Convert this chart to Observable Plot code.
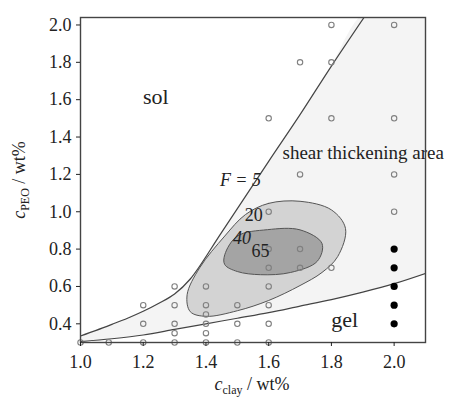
<!DOCTYPE html>
<html><head><meta charset="utf-8">
<script src="https://cdn.jsdelivr.net/npm/d3@7"></script>
<script src="https://cdn.jsdelivr.net/npm/@observablehq/plot@0.6"></script>
<style>body{margin:0;background:#fff} svg{display:block}
svg text{font-family:'Liberation Serif','DejaVu Serif',serif !important}</style>
</head><body><div id="chart"></div>
<script>
// boundary F = 5 (sol / shear thickening)
const upperX = [1.0, 1.05, 1.1, 1.15, 1.2, 1.25, 1.3, 1.35, 1.45, 1.6, 1.7, 1.8, 1.92];
const upperY = [0.335, 0.365, 0.397, 0.43, 0.467, 0.51, 0.56, 0.64, 0.89, 1.27, 1.52, 1.78, 2.08];
// gel boundary
const gelX = [1.0, 1.1, 1.2, 1.3, 1.4, 1.5, 1.6, 1.7, 1.8, 1.9, 2.0, 2.1];
const gelY = [0.305, 0.32, 0.34, 0.37, 0.40, 0.43, 0.46, 0.495, 0.53, 0.57, 0.615, 0.67];
// contour F = 20
const c20X = [1.526, 1.60, 1.70, 1.80, 1.845, 1.82, 1.77, 1.70, 1.60, 1.50, 1.40, 1.35, 1.34, 1.38, 1.46];
const c20Y = [0.985, 1.045, 1.056, 1.01, 0.91, 0.76, 0.675, 0.605, 0.525, 0.47, 0.44, 0.465, 0.556, 0.70, 0.87];
// contour F = 40
const c40X = [1.46, 1.50, 1.596, 1.70, 1.77, 1.755, 1.67, 1.574, 1.50, 1.46];
const c40Y = [0.77, 0.87, 0.904, 0.903, 0.83, 0.735, 0.675, 0.663, 0.68, 0.717];
// open symbols (measured samples)
const openX = [1.0, 1.09, 1.2, 1.3, 1.4, 1.5, 1.6,
  1.2, 1.2, 1.3, 1.3, 1.3, 1.3, 1.4, 1.4, 1.4, 1.4, 1.4,
  1.5, 1.5, 1.6, 1.6, 1.6, 1.6, 1.6, 1.6, 1.6,
  1.7, 1.7, 1.7, 1.7, 1.8, 1.8, 1.8, 1.8, 2.0, 2.0, 2.0, 2.0];
const openY = [0.3, 0.3, 0.3, 0.3, 0.3, 0.3, 0.3,
  0.4, 0.5, 0.35, 0.4, 0.5, 0.6, 0.35, 0.4, 0.45, 0.5, 0.6,
  0.4, 0.5, 0.4, 0.5, 0.6, 0.7, 0.8, 1.0, 1.5,
  0.7, 0.8, 1.2, 1.8, 0.7, 1.5, 1.8, 2.0, 1.0, 1.2, 1.5, 2.0];
// filled symbols (gel)
const gelPtX = [2.0, 2.0, 2.0, 2.0, 2.0];
const gelPtY = [0.4, 0.5, 0.6, 0.7, 0.8];
// ticks
const xTicks = [1.0, 1.2, 1.4, 1.6, 1.8, 2.0];
const yTicks = [0.4, 0.6, 0.8, 1.0, 1.2, 1.4, 1.6, 1.8, 2.0];
// in-plot labels
const labText = ["sol", "shear thickening area", "gel", "F = 5", "20", "40", "65"];
const labX = [1.24, 1.644, 1.842, 1.51, 1.552, 1.515, 1.574];
const labY = [1.615, 1.315, 0.42, 1.17, 0.98, 0.858, 0.788];

const zip = (xs, ys) => xs.map((x, i) => ({x, y: ys[i]}));
const upper = zip(upperX, upperY);
const gel = zip(gelX, gelY);
const areaTop = [...upper, {x: 2.2, y: 2.1}];
const c20 = zip(c20X, c20Y);
const c40 = zip(c40X, c40Y);
const open = zip(openX, openY);
const gelPts = zip(gelPtX, gelPtY);
const labs = labText.map((t, i) => ({t, x: labX[i], y: labY[i]}));
const serif = "'Liberation Serif', 'DejaVu Serif', serif";

const chart = Plot.plot({
  width: 452, height: 397,
  marginLeft: 80, marginRight: 27, marginTop: 17, marginBottom: 55,
  style: {fontFamily: serif, fontSize: "18px", color: "#222", background: "white"},
  x: {domain: [1.0, 2.1]},
  y: {domain: [0.3, 2.04]},
  marks: [
    Plot.areaY(areaTop, {x: "x", y: "y", fill: "#f4f4f4", curve: "catmull-rom", clip: true}),
    Plot.areaY(gel, {x: "x", y: "y", fill: "white", curve: "catmull-rom", clip: true}),
    Plot.line(c20, {x: "x", y: "y", curve: "catmull-rom-closed", fill: "#d3d3d3", stroke: "#555", strokeWidth: 1}),
    Plot.line(c40, {x: "x", y: "y", curve: "catmull-rom-closed", fill: "#a4a4a4", stroke: "#555", strokeWidth: 1}),
    Plot.line(upper, {x: "x", y: "y", curve: "catmull-rom", stroke: "#444", strokeWidth: 1.2, clip: true}),
    Plot.line(gel, {x: "x", y: "y", curve: "catmull-rom", stroke: "#444", strokeWidth: 1.2, clip: true}),
    Plot.dot(open, {x: "x", y: "y", r: 2.7, stroke: "#808080", strokeWidth: 1.1, fill: "none"}),
    Plot.dot(gelPts, {x: "x", y: "y", r: 3.6, fill: "#000", stroke: "none"}),
    Plot.text(labs.filter(d => d.t === "sol" || d.t === "gel"), {x: "x", y: "y", text: "t", fontSize: 22, fontFamily: serif, fill: "#222"}),
    Plot.text(labs.filter(d => d.t === "shear thickening area"), {x: "x", y: "y", text: "t", fontSize: 19, fontFamily: serif, textAnchor: "start", fill: "#222"}),
    Plot.text(labs.filter(d => d.t === "F = 5" || d.t === "40"), {x: "x", y: "y", text: "t", fontSize: 18, fontFamily: serif, fontStyle: "italic", fill: "#222"}),
    Plot.text(labs.filter(d => d.t === "20" || d.t === "65"), {x: "x", y: "y", text: "t", fontSize: 18, fontFamily: serif, fill: "#222"}),
    Plot.frame({stroke: "#444", strokeWidth: 1.4}),
    Plot.axisX({ticks: xTicks, tickFormat: d3.format(".1f"), tickSize: 4, tickPadding: 9, fontSize: 18, label: null}),
    Plot.axisY({ticks: yTicks, tickFormat: d3.format(".1f"), tickSize: 4, tickPadding: 5, fontSize: 18, label: null})
  ]
});
document.getElementById("chart").append(chart);

// axis titles with subscripts
const svg = d3.select(chart);
svg.selectAll("text").attr("font-family", serif).style("font-family", serif);
svg.selectAll("g").filter(function() { return this.getAttribute("font-family"); }).attr("font-family", serif);
function title(g, sub) {
  const t = g.append("text").attr("font-family", serif).attr("font-size", 18).attr("fill", "#222").attr("text-anchor", "middle");
  t.append("tspan").attr("font-style", "italic").text("c");
  t.append("tspan").attr("font-size", 12).attr("dy", 4).text(sub);
  t.append("tspan").attr("dy", -4).text(" / wt%");
}
title(svg.append("g").attr("transform", "translate(252,390)"), "clay");
title(svg.append("g").attr("transform", "translate(25,180) rotate(-90)"), "PEO");
</script></body></html>
